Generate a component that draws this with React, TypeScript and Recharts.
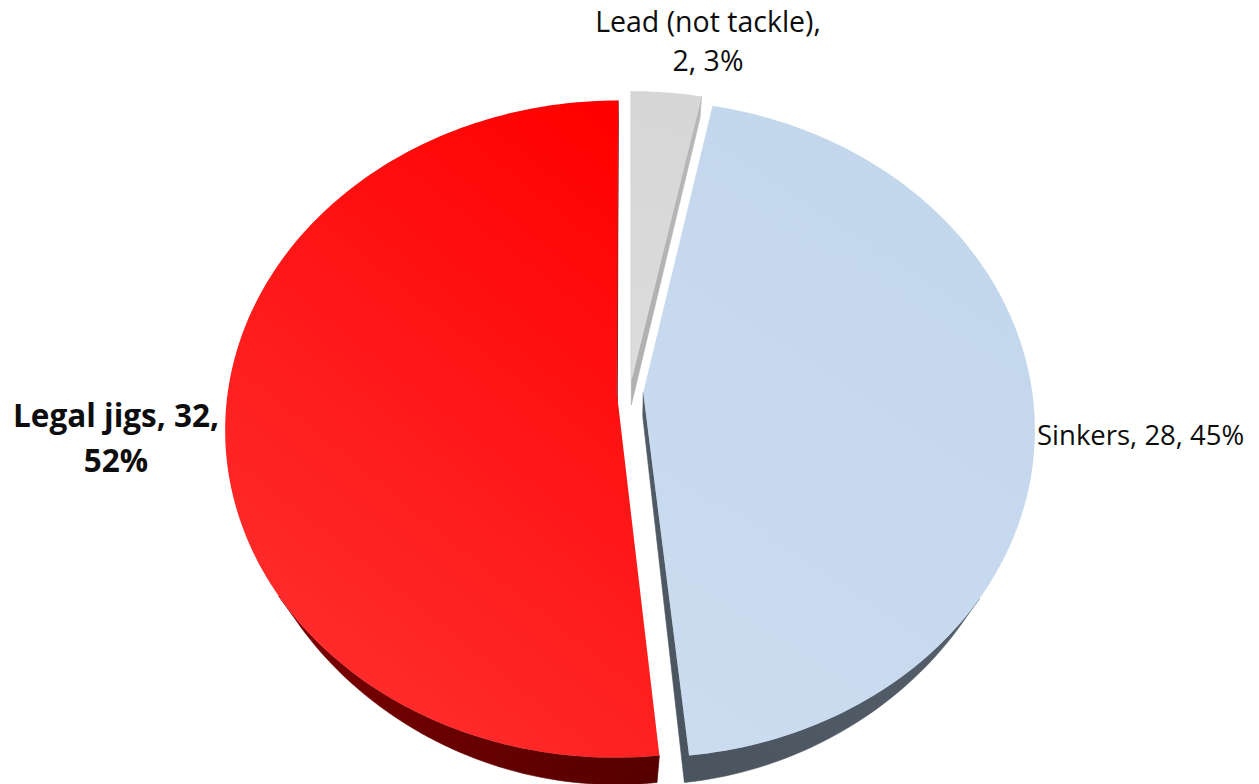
import React from 'react';
import { PieChart, Pie } from 'recharts';

// ---------- data ----------
const categories = ['Lead (not tackle)', 'Sinkers', 'Legal jigs'];
const counts = [2, 28, 32];

const data = categories.map((name, i) => ({ name, value: counts[i] }));

// ---------- layout / style ----------
const W = 1259;
const H = 784;
const CX = 630;
const CY = 392;
const R = 389;
const K = 0.111; // perspective strength
const BY = 324.4 / 389; // vertical squash of the tilted disc
const EXPLODE = 0.034; // explosion distance (fraction of radius)
const DEPTH = 24; // extrusion depth in px
const VP_BELOW = 700; // vertical vanishing point distance below centre

const TOP_GRAD = [
  { id: 'topLead', x1: 630, y1: 380, x2: 700, y2: 90, c1: '#dcdcdc', c2: '#d6d6d6' },
  { id: 'topSink', x1: 660, y1: 720, x2: 1000, y2: 200, c1: '#cbdcf0', c2: '#c2d6ec' },
  { id: 'topJig', x1: 240, y1: 640, x2: 640, y2: 140, c1: '#ff2e2e', c2: '#ff0000' },
];
const WALL_GRAD = [
  { id: 'wallLead', x1: 630, y1: 380, x2: 700, y2: 90, c1: '#b0b0b0', c2: '#b8b8b8' },
  { id: 'wallSink', x1: 660, y1: 760, x2: 1040, y2: 450, c1: '#4a545f', c2: '#5a6470' },
  { id: 'wallJig', x1: 230, y1: 450, x2: 660, y2: 780, c1: '#8a0000', c2: '#560000' },
];

const LABEL_LAYOUT = [
  { x: 708, y: 32, anchor: 'middle', size: 28.5, weight: 400, gap: 39, split: 1 },
  { x: 1037, y: 445, anchor: 'start', size: 27.5, weight: 400, gap: 0, split: 0 },
  { x: 116, y: 427, anchor: 'middle', size: 31.5, weight: 700, gap: 45, split: 2 },
];

const RAD = Math.PI / 180;

type P = { x: number; y: number; dx: number; dy: number };

function proj(u: number, v: number, cx: number, cy: number, r: number): P {
  const s = 1 / (1 + K * v);
  const x = cx + r * u * s;
  const y = cy - r * BY * v * s;
  const dy = DEPTH * s;
  const vpy = cy + VP_BELOW;
  const dx = ((cx - x) / (vpy - y)) * dy;
  return { x, y, dx, dy };
}

function slicePoints(p: any): P[] {
  const { cx, cy, outerRadius, startAngle, endAngle, midAngle } = p;
  const du = EXPLODE * Math.cos(midAngle * RAD);
  const dv = EXPLODE * Math.sin(midAngle * RAD);
  const pts: P[] = [proj(du, dv, cx, cy, outerRadius)];
  const steps = Math.max(2, Math.ceil(Math.abs(endAngle - startAngle) / 1.2));
  for (let i = 0; i <= steps; i++) {
    const a = (startAngle + ((endAngle - startAngle) * i) / steps) * RAD;
    pts.push(proj(Math.cos(a) + du, Math.sin(a) + dv, cx, cy, outerRadius));
  }
  return pts;
}

function wallPaths(pts: P[]): string[] {
  const n = pts.length;
  let area = 0;
  for (let i = 0; i < n; i++) {
    const a = pts[i];
    const b = pts[(i + 1) % n];
    area += a.x * b.y - b.x * a.y;
  }
  const vis: boolean[] = [];
  for (let i = 0; i < n; i++) {
    const a = pts[i];
    const b = pts[(i + 1) % n];
    const ex = b.x - a.x;
    const ey = b.y - a.y;
    // outward normal
    const nx = area > 0 ? ey : -ey;
    const ny = area > 0 ? -ex : ex;
    // wall visible if the drop vector points outward
    const mdx = (a.dx + b.dx) / 2;
    const mdy = (a.dy + b.dy) / 2;
    vis.push(nx * mdx + ny * mdy > 0.0001);
  }
  let start = vis.findIndex((v) => !v);
  if (start < 0) start = 0;
  const runs: number[][] = [];
  let cur: number[] = [];
  for (let k = 1; k <= n; k++) {
    const i = (start + k) % n;
    if (vis[i]) cur.push(i);
    else if (cur.length) {
      runs.push(cur);
      cur = [];
    }
  }
  if (cur.length) runs.push(cur);
  return runs.map((run) => {
    const idx = [run[0], ...run.map((i) => (i + 1) % n)];
    const top = idx.map((i) => pts[i]);
    const bottom = [...top].reverse().map((q) => ({ x: q.x + q.dx, y: q.y + q.dy }));
    const all = [...top, ...bottom];
    return 'M' + all.map((q) => `${q.x.toFixed(2)},${q.y.toFixed(2)}`).join('L') + 'Z';
  });
}

function Grad({ g }: { g: any }) {
  return (
    <linearGradient id={g.id} gradientUnits="userSpaceOnUse" x1={g.x1} y1={g.y1} x2={g.x2} y2={g.y2}>
      <stop offset="0" stopColor={g.c1} />
      <stop offset="1" stopColor={g.c2} />
    </linearGradient>
  );
}

const renderWalls = (p: any) => {
  const i = p.index;
  const paths = wallPaths(slicePoints(p));
  const g = WALL_GRAD[i];
  return (
    <g>
      <defs>
        <Grad g={g} />
      </defs>
      {paths.map((d, k) => (
        <path key={k} d={d} fill={`url(#${g.id})`} stroke={`url(#${g.id})`} strokeWidth={0.6} />
      ))}
    </g>
  );
};

const renderTops = (p: any) => {
  const i = p.index;
  const pts = slicePoints(p);
  const g = TOP_GRAD[i];
  const d = 'M' + pts.map((q) => `${q.x.toFixed(2)},${q.y.toFixed(2)}`).join('L') + 'Z';
  return (
    <g>
      <defs>
        <Grad g={g} />
      </defs>
      <path d={d} fill={`url(#${g.id})`} />
    </g>
  );
};

const renderText = (p: any) => {
  const i = p.index;
  const L = LABEL_LAYOUT[i];
  const pct = Math.round(p.percent * 100);
  const name = p.name;
  const value = p.value;
  let lines: string[];
  if (L.split === 1) lines = [`${name},`, `${value}, ${pct}%`];
  else if (L.split === 2) lines = [`${name}, ${value},`, `${pct}%`];
  else lines = [`${name}, ${value}, ${pct}%`];
  return (
    <text
      x={L.x}
      y={L.y}
      textAnchor={L.anchor as any}
      fontFamily="'Open Sans', sans-serif"
      fontSize={L.size}
      fontWeight={L.weight}
      fill="#0d0d0d"
      stroke="none"
    >
      {lines.map((t, k) => (
        <tspan key={k} x={L.x} y={L.y + k * L.gap}>
          {t}
        </tspan>
      ))}
    </text>
  );
};

export default function App() {
  const common = {
    data,
    dataKey: 'value',
    nameKey: 'name',
    cx: CX,
    cy: CY,
    outerRadius: R,
    startAngle: 90,
    endAngle: -270,
    isAnimationActive: false,
    fill: 'none',
    stroke: 'none',
    labelLine: false,
  };
  return (
    <div style={{ position: 'absolute', left: 0, top: 0, width: W, height: H, background: '#ffffff' }}>
      <PieChart width={W} height={H} margin={{ top: 0, right: 0, bottom: 0, left: 0 }}>
        <Pie {...(common as any)} label={renderWalls} />
        <Pie {...(common as any)} label={renderTops} />
        <Pie {...(common as any)} label={renderText} />
      </PieChart>
    </div>
  );
}
